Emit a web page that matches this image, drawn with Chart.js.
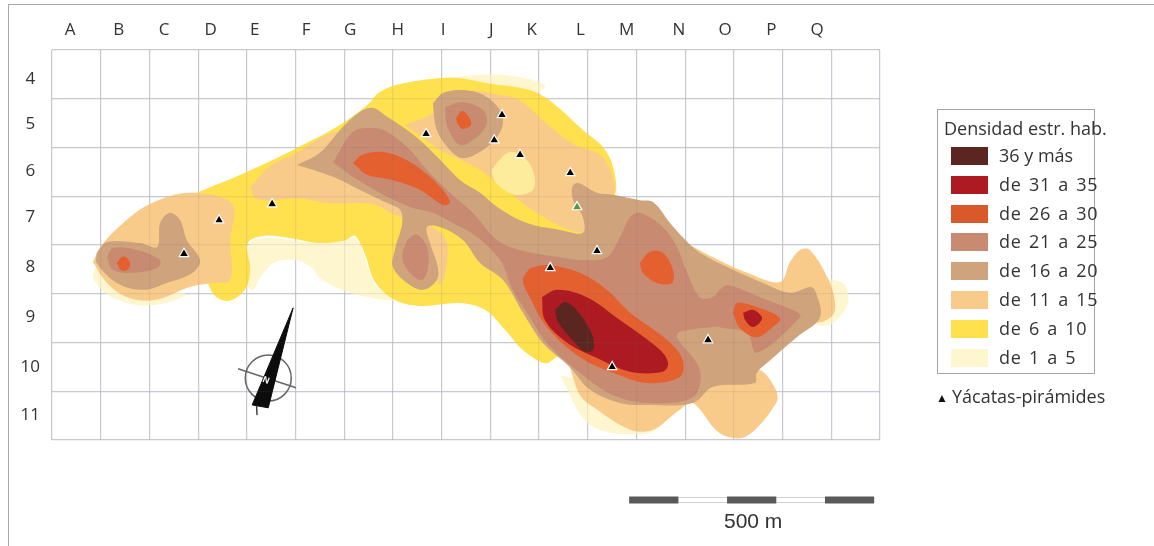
<!DOCTYPE html>
<html lang="es">
<head>
<meta charset="utf-8">
<title>Densidad estr. hab.</title>
<script src="https://cdn.jsdelivr.net/npm/chart.js@4"></script>
<style>
  html, body { margin: 0; padding: 0; background: #fff; }
  #wrap { position: relative; width: 1154px; height: 546px; overflow: hidden; font-family: "Open Sans", sans-serif; color: #333; }
  #frame { position: absolute; left: 8px; top: 4px; right: -5px; bottom: -5px; border: 1px solid #a8a8a8; }
  #legend { position: absolute; left: 937px; top: 109px; width: 156px; height: 263px; border: 1px solid #a5a5a5; box-sizing: content-box; }
  #legend .titulo { position: absolute; left: 6px; top: 6px; font-size: 18px; white-space: nowrap; }
  #legend .fila { position: absolute; left: 13px; height: 18px; }
  #legend .fila i { position: absolute; left: 0; top: 0; width: 37px; height: 18px; }
  #legend .fila span { position: absolute; left: 48px; top: -4px; font-size: 18px; letter-spacing: 0.7px; word-spacing: 2px; white-space: nowrap; }
  #legend .fila:nth-child(2) span { letter-spacing: 0; word-spacing: 0; }
  #yacatas { position: absolute; left: 952px; top: 384px; font-size: 18px; white-space: nowrap; }
  #yacatasMarca { position: absolute; left: 936px; top: 389px; font-size: 12px; color: #111; }
  #escala { position: absolute; left: 724px; top: 509px; font: 21px "Liberation Sans", sans-serif; }
  #norte { position: absolute; left: 263px; top: 375px; font: bold 9px "Liberation Sans", sans-serif; color: #fff; transform: rotate(22deg); }
  canvas { position: absolute; left: 0; top: 0; }
</style>
</head>
<body>
<div id="wrap">
  <canvas id="mapa" width="1154" height="546"></canvas>
  <div id="frame"></div>
  <div id="legend"></div>
  <div id="yacatasMarca">▲</div>
  <div id="yacatas">Yácatas-pirámides</div>
  <div id="escala">500 m</div>
  <div id="norte">N</div>
</div>
<script>
// Etiquetas de la reticula
const columnas = ["A","B","C","D","E","F","G","H","I","J","K","L","M","N","O","P","Q"];
const columnasPos = [0.37,1.37,2.30,3.26,4.16,5.22,6.12,7.10,8.03,9.02,9.85,10.85,11.80,12.87,13.82,14.77,15.71];
const filas = ["4","5","6","7","8","9","10","11"];
const filasPos = [4.09,5.02,5.98,6.93,7.95,8.98,10.00,10.99];

const tituloLeyenda = "Densidad estr. hab.";
const rangos = ["36 y más","de 31 a 35","de 26 a 30","de 21 a 25","de 16 a 20","de 11 a 15","de 6 a 10","de 1 a 5"];
const coloresRango = ["#5c2620","#ae1a22","#d9592a","#c98a72","#cfa37c","#f9cb8a","#ffe04e","#fdf6cf"];
const colorManchaClara = "#fdec9c";

// Curvas de densidad, en unidades de la reticula [columna, fila]
const pale1 = [[4.00,7.85],[4.07,7.46],[4.37,7.36],[4.89,7.40],[5.46,7.46],[6.02,7.40],[6.22,7.36],[6.37,7.60],[6.63,8.32],[7.04,8.63],[6.12,8.48],[5.50,8.18],[5.34,7.97],[4.99,7.81],[4.58,7.85],[4.31,8.12],[4.11,8.42],[3.96,8.22]];
const pale2 = [[0.90,7.91],[0.86,8.20],[1.25,8.58],[2.01,8.74],[2.75,8.52],[2.22,8.42]];
const pale3 = [[15.93,8.18],[16.28,8.32],[16.33,8.73],[15.97,9.14],[15.66,9.08]];
const pale4 = [[10.43,10.17],[11.05,11.19],[12.07,11.38],[12.48,11.19],[12.07,10.58]];
const pale5 = [[8.00,4.07],[9.20,4.01],[10.12,4.22],[9.81,4.42],[8.23,4.20]];

const amarillo = [[2.69,6.54],[4.00,6.00],[4.95,5.55],[5.91,5.04],[6.47,4.63],[6.73,4.36],[7.21,4.18],[8.23,4.07],[8.93,4.18],[9.81,4.32],[10.29,4.59],[10.90,5.14],[11.31,5.49],[11.52,5.90],[11.56,6.47],[11.25,6.78],[11.25,8.63],[10.22,9.90],[9.71,9.69],[9.30,9.24],[8.89,8.83],[8.38,8.69],[7.56,8.75],[7.04,8.63],[6.63,8.26],[6.43,7.70],[6.22,7.31],[6.02,7.40],[5.50,7.46],[4.89,7.36],[4.37,7.31],[4.02,7.46],[4.07,8.01],[3.96,8.42],[3.61,8.65],[3.28,8.46],[3.04,7.60]];

const naranja1 = [[0.84,7.85],[0.99,7.54],[1.46,7.05],[2.01,6.66],[2.83,6.43],[3.70,6.66],[3.66,7.40],[3.66,8.22],[3.31,8.28],[2.83,8.36],[2.11,8.63],[1.54,8.57],[1.13,8.28]];
const naranja2 = [[4.07,6.31],[4.48,5.88],[4.95,5.65],[5.91,5.18],[6.32,5.76],[7.56,6.99],[7.04,6.88],[6.59,6.66],[5.65,6.64],[5.05,6.54],[4.48,6.58],[4.17,6.54]];
const naranja3 = [[7.25,5.04],[7.76,4.83],[8.58,4.36],[9.20,4.42],[9.61,4.53],[10.12,4.98],[10.74,5.45],[11.25,5.65],[11.50,6.06],[11.52,6.47],[11.05,6.47],[10.94,7.23],[10.02,6.88],[8.79,5.96],[7.97,5.55]];
const naranja4 = [[7.66,7.03],[8.07,7.36],[8.11,7.85],[7.97,8.32],[7.80,7.81]];
const naranja5 = [[10.63,10.00],[10.84,10.58],[11.11,10.82],[11.87,11.29],[12.34,11.29],[12.89,10.88],[13.16,10.74],[13.71,11.36],[14.23,11.44],[14.88,10.72],[14.84,10.43],[14.53,10.06],[13.30,9.65],[11.66,10.06]];
const naranja6 = [[13.10,7.50],[13.57,7.75],[14.27,8.07],[14.95,8.26],[15.15,7.85],[15.36,7.60],[15.56,7.60],[15.93,8.18],[16.07,8.63],[16.03,8.94],[15.66,9.08],[15.15,8.63],[13.92,8.42],[13.30,8.11]];
const manchaClara = [[9.14,5.80],[9.40,5.59],[9.71,5.72],[9.90,6.06],[9.87,6.37],[9.51,6.47],[9.16,6.27],[9.03,6.00]];

const tan1 = [[0.92,7.66],[1.13,7.44],[1.81,7.46],[2.16,7.54],[2.22,7.05],[2.42,6.84],[2.63,6.99],[2.77,7.40],[3.04,7.81],[2.89,8.07],[2.36,8.28],[1.87,8.42],[1.33,8.28],[0.92,7.87]];
const tan2 = [[5.03,5.86],[5.50,5.61],[5.97,5.08],[6.32,4.77],[6.59,4.69],[6.88,4.87],[7.29,5.14],[7.62,5.41],[8.03,5.82],[8.38,6.17],[8.79,6.43],[9.14,6.72],[9.75,7.05],[10.43,7.19],[10.90,7.25],[10.90,6.93],[10.70,6.58],[10.68,6.31],[10.80,6.23],[11.19,6.43],[11.52,6.47],[12.07,6.58],[12.34,6.62],[12.69,7.05],[12.95,7.34],[13.30,7.66],[13.98,8.01],[14.60,8.28],[15.15,8.48],[15.56,8.36],[15.66,8.42],[15.77,8.98],[15.29,9.39],[14.68,9.92],[14.47,10.12],[14.43,10.33],[13.57,10.41],[13.16,10.74],[12.22,10.78],[11.66,10.74],[11.05,10.47],[10.63,10.00],[10.08,9.51],[9.67,8.89],[9.26,8.22],[8.79,7.87],[8.44,7.40],[7.97,7.13],[7.70,7.13],[7.76,7.46],[7.92,7.95],[7.90,8.22],[7.62,8.42],[7.29,8.28],[7.00,7.95],[7.04,7.60],[7.19,7.05],[7.15,6.78],[6.88,6.64],[6.32,6.37],[5.77,6.10]];
const tan3 = [[7.82,4.59],[8.03,4.38],[8.44,4.32],[8.85,4.42],[9.20,4.73],[9.26,5.00],[9.14,5.28],[8.85,5.55],[8.44,5.72],[8.17,5.55],[7.90,5.14]];

const rosa1 = [[1.13,7.75],[1.25,7.56],[1.75,7.60],[2.22,7.81],[2.16,7.97],[1.66,8.07],[1.25,8.01]];
const rosa2 = [[5.77,5.80],[6.18,5.18],[6.59,5.10],[6.88,5.18],[7.29,5.49],[7.70,5.96],[8.17,6.43],[8.64,6.84],[9.14,7.40],[9.61,7.60],[10.43,7.75],[10.90,7.81],[11.39,7.75],[11.66,7.34],[11.87,6.93],[12.07,6.84],[12.54,7.13],[12.83,7.54],[13.04,8.07],[13.30,8.57],[13.57,8.57],[13.71,8.42],[13.88,8.32],[14.53,8.57],[15.29,8.87],[15.36,8.98],[14.47,9.71],[14.27,9.30],[13.78,9.20],[13.57,9.18],[12.89,9.28],[12.83,9.39],[13.30,10.06],[13.16,10.62],[12.28,10.74],[11.52,10.58],[10.84,10.12],[10.16,9.51],[9.81,8.98],[9.46,8.42],[9.20,7.81],[8.73,7.34],[8.23,7.05],[7.82,6.84],[7.35,6.72],[6.73,6.43],[6.18,6.10]];
const rosa3 = [[7.29,7.40],[7.49,7.29],[7.70,7.54],[7.72,7.95],[7.60,8.22],[7.35,8.07],[7.19,7.75]];
const rosa4 = [[8.07,4.67],[8.44,4.57],[8.85,4.73],[8.93,5.00],[8.73,5.28],[8.38,5.45],[8.12,5.08]];

const rojizo1 = [[1.33,7.87],[1.46,7.73],[1.60,7.85],[1.56,8.00],[1.42,8.02]];
const rojizo2 = [[6.18,5.82],[6.37,5.65],[6.80,5.59],[7.29,5.76],[7.76,6.10],[8.07,6.43],[8.17,6.64],[8.03,6.68],[7.56,6.37],[7.00,6.17],[6.47,6.06]];
const rojizo3 = [[8.30,4.89],[8.42,4.75],[8.56,4.87],[8.60,5.04],[8.44,5.12],[8.32,5.00]];
const rojizo4 = [[9.81,7.97],[10.16,7.91],[10.84,8.07],[11.39,8.42],[11.87,8.89],[12.63,9.45],[12.95,9.86],[12.89,10.21],[12.22,10.33],[11.52,10.12],[10.84,9.80],[10.16,9.18],[9.81,8.57],[9.67,8.22]];
const rojizo5 = [[12.07,7.87],[12.28,7.64],[12.54,7.66],[12.75,8.01],[12.73,8.28],[12.42,8.28],[12.13,8.07]];
const rojizo6 = [[13.98,8.89],[14.07,8.69],[14.47,8.77],[14.95,9.00],[14.80,9.18],[14.47,9.39],[14.12,9.20]];

const rojo1 = [[10.06,8.57],[10.37,8.42],[10.98,8.57],[11.66,9.04],[12.48,9.65],[12.65,9.92],[12.54,10.10],[11.87,10.10],[11.19,9.82],[10.57,9.50],[10.12,9.04]];
const rojo2 = [[14.19,8.89],[14.39,8.83],[14.58,9.00],[14.39,9.18],[14.23,9.04]];
const oscuro1 = [[10.33,8.83],[10.53,8.67],[10.80,8.87],[11.09,9.34],[11.11,9.65],[10.94,9.69],[10.68,9.45],[10.39,9.08]];

// Yacatas
const yacatas = [[3.43,6.99],[2.71,7.68],[4.52,6.66],[7.68,5.22],[9.24,4.83],[9.08,5.35],[9.61,5.65],[10.64,6.02],[11.19,7.62],[10.23,7.97],[11.50,10.00],[13.47,9.45]];
const yacataVerde = [[10.78,6.72]];

// Norte y escala grafica
const agujaNorte = [[4.95,8.79],[4.11,10.78],[4.44,10.84]];
const colaNorte = [[4.20,10.80],[4.21,10.99]];
const cruzNorte = [[3.82,10.04],[5.01,10.43]];
const centroNorte = [[4.44,10.23]];
const escalaFila = 12.73;
const escalaOscura = [[11.85,12.86],[13.86,14.87],[15.87,16.88]];
const escalaClara = [[12.86,13.86],[14.87,15.87]];

function aPuntos(lista) { return lista.map(p => ({ x: p[0], y: p[1] })); }

function curva(lista, color, orden) {
  const puntos = aPuntos(lista);
  puntos.push(puntos[0]);
  return { data: puntos, showLine: true, fill: "shape", backgroundColor: color, borderColor: color, borderWidth: 0, pointRadius: 0, tension: 0.35, order: orden };
}

function linea(puntos, color, ancho, orden) {
  return { data: puntos, showLine: true, fill: false, borderColor: color, borderWidth: ancho, pointRadius: 0, tension: 0, order: orden, clip: false };
}

const conjuntos = [
  curva(pale1, coloresRango[7], 90), curva(pale2, coloresRango[7], 90), curva(pale3, coloresRango[7], 90),
  curva(pale4, coloresRango[7], 90), curva(pale5, coloresRango[7], 90),
  curva(amarillo, coloresRango[6], 80),
  curva(naranja1, coloresRango[5], 70), curva(naranja2, coloresRango[5], 70), curva(naranja3, coloresRango[5], 70),
  curva(naranja4, coloresRango[5], 70), curva(naranja5, coloresRango[5], 70), curva(naranja6, coloresRango[5], 70),
  curva(manchaClara, colorManchaClara, 65),
  curva(tan1, coloresRango[4], 60), curva(tan2, coloresRango[4], 60), curva(tan3, coloresRango[4], 60),
  curva(rosa1, coloresRango[3], 50), curva(rosa2, coloresRango[3], 50), curva(rosa3, coloresRango[3], 50), curva(rosa4, coloresRango[3], 50),
  curva(rojizo1, "#e4602f", 40), curva(rojizo2, "#e4602f", 40), curva(rojizo3, "#e4602f", 40),
  curva(rojizo4, "#e4602f", 40), curva(rojizo5, "#e4602f", 40), curva(rojizo6, "#e4602f", 40),
  curva(rojo1, coloresRango[1], 30), curva(rojo2, coloresRango[1], 30),
  curva(oscuro1, coloresRango[0], 20),
  // yacatas con halo blanco
  { data: aPuntos(yacatas), pointStyle: "triangle", pointRadius: 5.5, backgroundColor: "#000", pointBorderColor: "#fff", pointBorderWidth: 1.2, order: 5 },
  { data: aPuntos(yacataVerde), pointStyle: "triangle", pointRadius: 5.5, backgroundColor: "#4e9a48", pointBorderColor: "#fff", pointBorderWidth: 1.2, order: 5 },
  // norte
  { data: aPuntos(agujaNorte).concat(aPuntos(agujaNorte).slice(0, 1)), showLine: true, fill: "shape", backgroundColor: "#0c0c0c", borderColor: "#0c0c0c", borderWidth: 1, pointRadius: 0, order: 3 },
  linea(aPuntos(colaNorte), "#444", 1.5, 4),
  linea(aPuntos(cruzNorte), "#666", 1.5, 4),
  { data: aPuntos(centroNorte), pointRadius: 23, backgroundColor: "transparent", pointBorderColor: "#666", pointBorderWidth: 1.5, order: 4 }
];

// escala grafica: base, tramos claros y tramos oscuros
conjuntos.push(linea([{ x: escalaOscura[0][0], y: escalaFila }, { x: escalaOscura[2][1], y: escalaFila }], "#d0d0d0", 6, 4));
escalaClara.forEach(t => conjuntos.push(linea([{ x: t[0], y: escalaFila }, { x: t[1], y: escalaFila }], "#fff", 4, 3)));
escalaOscura.forEach(t => conjuntos.push(linea([{ x: t[0], y: escalaFila }, { x: t[1], y: escalaFila }], "#5a5a5a", 7, 2)));

const sinTexto = { display: false };
function ejeReticula(pos, min, max, color, z, invertido) {
  return {
    type: "linear", position: pos, min: min, max: max, reverse: !!invertido,
    ticks: { display: false, stepSize: 1 },
    border: sinTexto,
    grid: { color: color, lineWidth: 1.2, drawTicks: false, z: z }
  };
}

new Chart(document.getElementById("mapa"), {
  type: "scatter",
  data: { datasets: conjuntos },
  options: {
    responsive: false,
    animation: false,
    layout: { padding: { right: 274, bottom: 106 } },
    plugins: { legend: sinTexto, tooltip: { enabled: false } },
    scales: {
      x: {
        type: "linear", position: "top", min: 0, max: 17,
        border: sinTexto,
        grid: sinTexto,
        afterBuildTicks: eje => { eje.ticks = columnasPos.map(v => ({ value: v })); },
        afterFit: eje => { eje.height = 50; },
        ticks: {
          autoSkip: false, maxRotation: 0, padding: 2, color: "#333",
          font: { family: "Open Sans", size: 17 },
          callback: (v, i) => columnas[i]
        }
      },
      y: {
        type: "linear", position: "left", min: 3.5, max: 11.5, reverse: true,
        border: sinTexto,
        grid: sinTexto,
        afterBuildTicks: eje => { eje.ticks = filasPos.map(v => ({ value: v })); },
        afterFit: eje => { eje.width = 52; },
        ticks: {
          autoSkip: false, crossAlign: "center", padding: 4, color: "#333",
          font: { family: "Open Sans", size: 17 },
          callback: (v, i) => filas[i]
        }
      },
      gx: ejeReticula("top", 0, 17, "#d5d7df", -1),
      gy: ejeReticula("left", 3.5, 11.5, "#d5d7df", -1, true),
      ox: ejeReticula("top", 0, 17, "rgba(110,110,130,0.12)", 1),
      oy: ejeReticula("left", 3.5, 11.5, "rgba(110,110,130,0.12)", 1, true)
    }
  }
});

// Leyenda
const leyenda = document.getElementById("legend");
const titulo = document.createElement("div");
titulo.className = "titulo";
titulo.textContent = tituloLeyenda;
leyenda.appendChild(titulo);
rangos.forEach((r, i) => {
  const fila = document.createElement("div");
  fila.className = "fila";
  fila.style.top = (37 + i * 28.8) + "px";
  fila.innerHTML = '<i style="background:' + coloresRango[i] + '"></i><span>' + r + "</span>";
  leyenda.appendChild(fila);
});
</script>
</body>
</html>
